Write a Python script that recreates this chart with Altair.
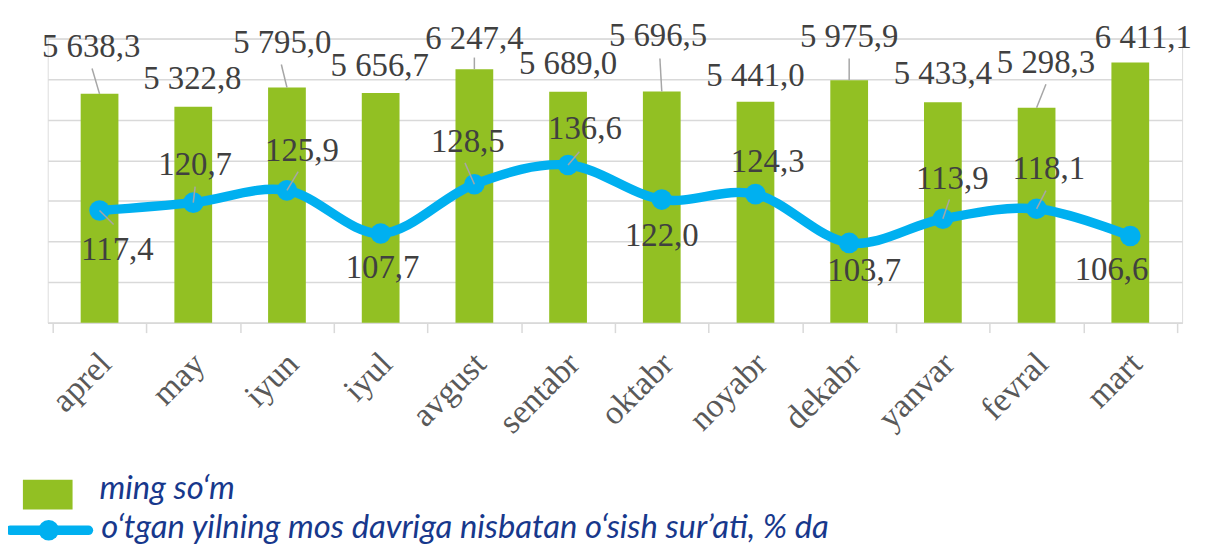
import altair as alt
import pandas as pd

# ---- data ----
months = ["aprel", "may", "iyun", "iyul", "avgust", "sentabr",
          "oktabr", "noyabr", "dekabr", "yanvar", "fevral", "mart"]
values = [5638.3, 5322.8, 5795.0, 5656.7, 6247.4, 5689.0,
          5696.5, 5441.0, 5975.9, 5433.4, 5298.3, 6411.1]
rates = [117.4, 120.7, 125.9, 107.7, 128.5, 136.6,
         122.0, 124.3, 103.7, 113.9, 118.1, 106.6]
legend_labels = ["ming so‘m",
                 "o‘tgan yilning mos davriga nisbatan o‘sish sur’ati, % da"]

# ---- label placement (in data units) ----
bar_label_y = [6803, 5995, 6901, 6313, 6998, 6375, 7072, 6069, 7047, 6130, 6399, 7023]
bar_label_dx = [-0.09, -0.01, -0.05, -0.01, 0, 0, -0.04, 0, 0, 0, 0.10, 0.14]
rate_label_y = [100.6, 136.7, 142.6, 92.9, 146.4, 151.8, 106.5, 138.0, 91.8, 130.8, 134.8, 92.2]
rate_label_dx = [0.19, 0.02, 0.16, 0.02, -0.07, 0.18, 0.0, 0.13, 0.16, 0.10, 0.13, -0.20]

bar_leader_idx = [0, 2, 4, 6, 8, 10]
bar_leader_dx = [-0.08, -0.06, 0.0, -0.02, 0.0, 0.10]
bar_leader_top = [6264, 6362, 6533, 6509, 6509, 5873]
rate_leader_idx = [0, 1, 2, 4, 5, 9, 10]
rate_leader_dx = [0.15, 0.02, 0.12, -0.10, 0.12, 0.07, 0.10]
rate_leader_end = [111.5, 127.5, 133.8, 137.5, 142.2, 122.0, 125.8]


def fmt(v):
    return f"{v:,.1f}".replace(",", " ").replace(".", ",")


df = pd.DataFrame({
    "idx": list(range(len(months))),
    "month": months,
    "value": values,
    "rate": rates,
    "vlab": [fmt(v) for v in values],
    "rlab": [fmt(r) for r in rates],
    "vly": bar_label_y,
    "vlx": [i + d for i, d in enumerate(bar_label_dx)],
    "rly": rate_label_y,
    "rlx": [i + d for i, d in enumerate(rate_label_dx)],
})

bl = pd.DataFrame({
    "x1": [i + d for i, d in zip(bar_leader_idx, bar_leader_dx)],
    "x2": bar_leader_idx,
    "y1": bar_leader_top,
    "y2": [values[i] for i in bar_leader_idx],
})
rl = pd.DataFrame({
    "x1": rate_leader_idx,
    "x2": [i + d for i, d in zip(rate_leader_idx, rate_leader_dx)],
    "y1": [rates[i] for i in rate_leader_idx],
    "y2": rate_leader_end,
})

GREEN = "#92C023"
BLUE = "#00B0F0"
GRID = "#D9D9D9"
TXT = "#404040"
NUMFONT = "Liberation Serif"

XS = alt.Scale(domain=[-0.5, len(months) - 0.5], nice=False, zero=False)
YB = alt.Scale(domain=[0, 7000], nice=False)
YR = alt.Scale(domain=[70, 190], nice=False, zero=False)

names_js = "[" + ",".join("'" + m + "'" for m in months) + "]"
x_axis = alt.Axis(
    values=[i * 0.5 - 0.5 for i in range(2 * len(months) + 1)],
    labelExpr=f"datum.value % 1 === 0 ? {names_js}[datum.value] : ''",
    title=None, grid=False,
    labelAngle=-45, labelAlign="right", labelBaseline="middle",
    labelPadding=26, labelOffset=6, labelFont=NUMFONT, labelFontSize=34,
    labelColor="#595959",
    labelOverlap=False, labelFlush=False, labelBound=False,
    tickSize=10, tickColor=GRID, tickWidth=1.5,
    tickOpacity={"condition": {"test": "datum.value % 1 === 0", "value": 0}, "value": 1},
    domainColor=GRID, domainWidth=1.5,
)
y_axis = alt.Axis(values=list(range(0, 7001, 1000)), grid=True, gridColor=GRID,
                  gridWidth=1.5, labels=False, ticks=False, domain=False, title=None)


def X(field):
    return alt.X(field, type="quantitative", scale=XS, axis=x_axis)


base = alt.Chart(df)

bars = base.mark_bar(size=38, color=GREEN).encode(
    x=X("idx"),
    y=alt.Y("value:Q", scale=YB, axis=y_axis),
)
bar_leaders = alt.Chart(bl).mark_rule(color="#A6A6A6", strokeWidth=1.5).encode(
    x=X("x1"), x2="x2:Q",
    y=alt.Y("y1:Q", scale=YB, axis=None), y2="y2:Q",
)
bar_labels = base.mark_text(font=NUMFONT, fontSize=33, color=TXT, baseline="middle").encode(
    x=X("vlx"),
    y=alt.Y("vly:Q", scale=YB, axis=None),
    text="vlab:N",
)
line = base.mark_line(color=BLUE, strokeWidth=9.5, interpolate="cardinal").encode(
    x=X("idx"),
    y=alt.Y("rate:Q", scale=YR, axis=None),
)
points = base.mark_point(filled=True, color=BLUE, size=430, opacity=1).encode(
    x=X("idx"),
    y=alt.Y("rate:Q", scale=YR, axis=None),
)
rate_leaders = alt.Chart(rl).mark_rule(color="#A6A6A6", strokeWidth=1.5).encode(
    x=X("x1"), x2="x2:Q",
    y=alt.Y("y1:Q", scale=YR, axis=None), y2="y2:Q",
)
rate_labels = base.mark_text(font=NUMFONT, fontSize=33, color=TXT, baseline="middle").encode(
    x=X("rlx"),
    y=alt.Y("rly:Q", scale=YR, axis=None),
    text="rlab:N",
)

one = pd.DataFrame({"k": [0]})
leg_box = alt.Chart(one).mark_rect(color=GREEN).encode(
    x=alt.value(-25), x2=alt.value(25), y=alt.value(444), y2=alt.value(474))
leg_line = alt.Chart(one).mark_rule(color=BLUE, strokeWidth=9.5, strokeCap="round").encode(
    x=alt.value(-38), x2=alt.value(41), y=alt.value(495))
leg_pt = alt.Chart(one).mark_point(filled=True, color=BLUE, size=430, opacity=1).encode(
    x=alt.value(1), y=alt.value(495))
leg_t1 = alt.Chart(one).mark_text(text=legend_labels[0], font="Lato", fontStyle="italic",
                                  fontSize=33, color="#17388C", align="left",
                                  baseline="alphabetic").encode(
    x=alt.value(52), y=alt.value(463))
leg_t2 = alt.Chart(one).mark_text(text=legend_labels[1], font="Lato", fontStyle="italic",
                                  fontSize=33, color="#17388C", align="left",
                                  baseline="alphabetic").encode(
    x=alt.value(54), y=alt.value(503))

chart = alt.layer(
    bars, bar_leaders, bar_labels, line, points, rate_leaders, rate_labels,
    leg_box, leg_line, leg_pt, leg_t1, leg_t2,
).resolve_scale(y="independent").properties(
    width=1142, height=286,
    autosize=alt.AutoSizeParams(type="none"),
    padding={"left": 40, "top": 29, "right": 16, "bottom": 222},
).configure_view(stroke=None).configure(background="white")

chart.save("out.html", embed_options={"renderer": "svg", "actions": False})
